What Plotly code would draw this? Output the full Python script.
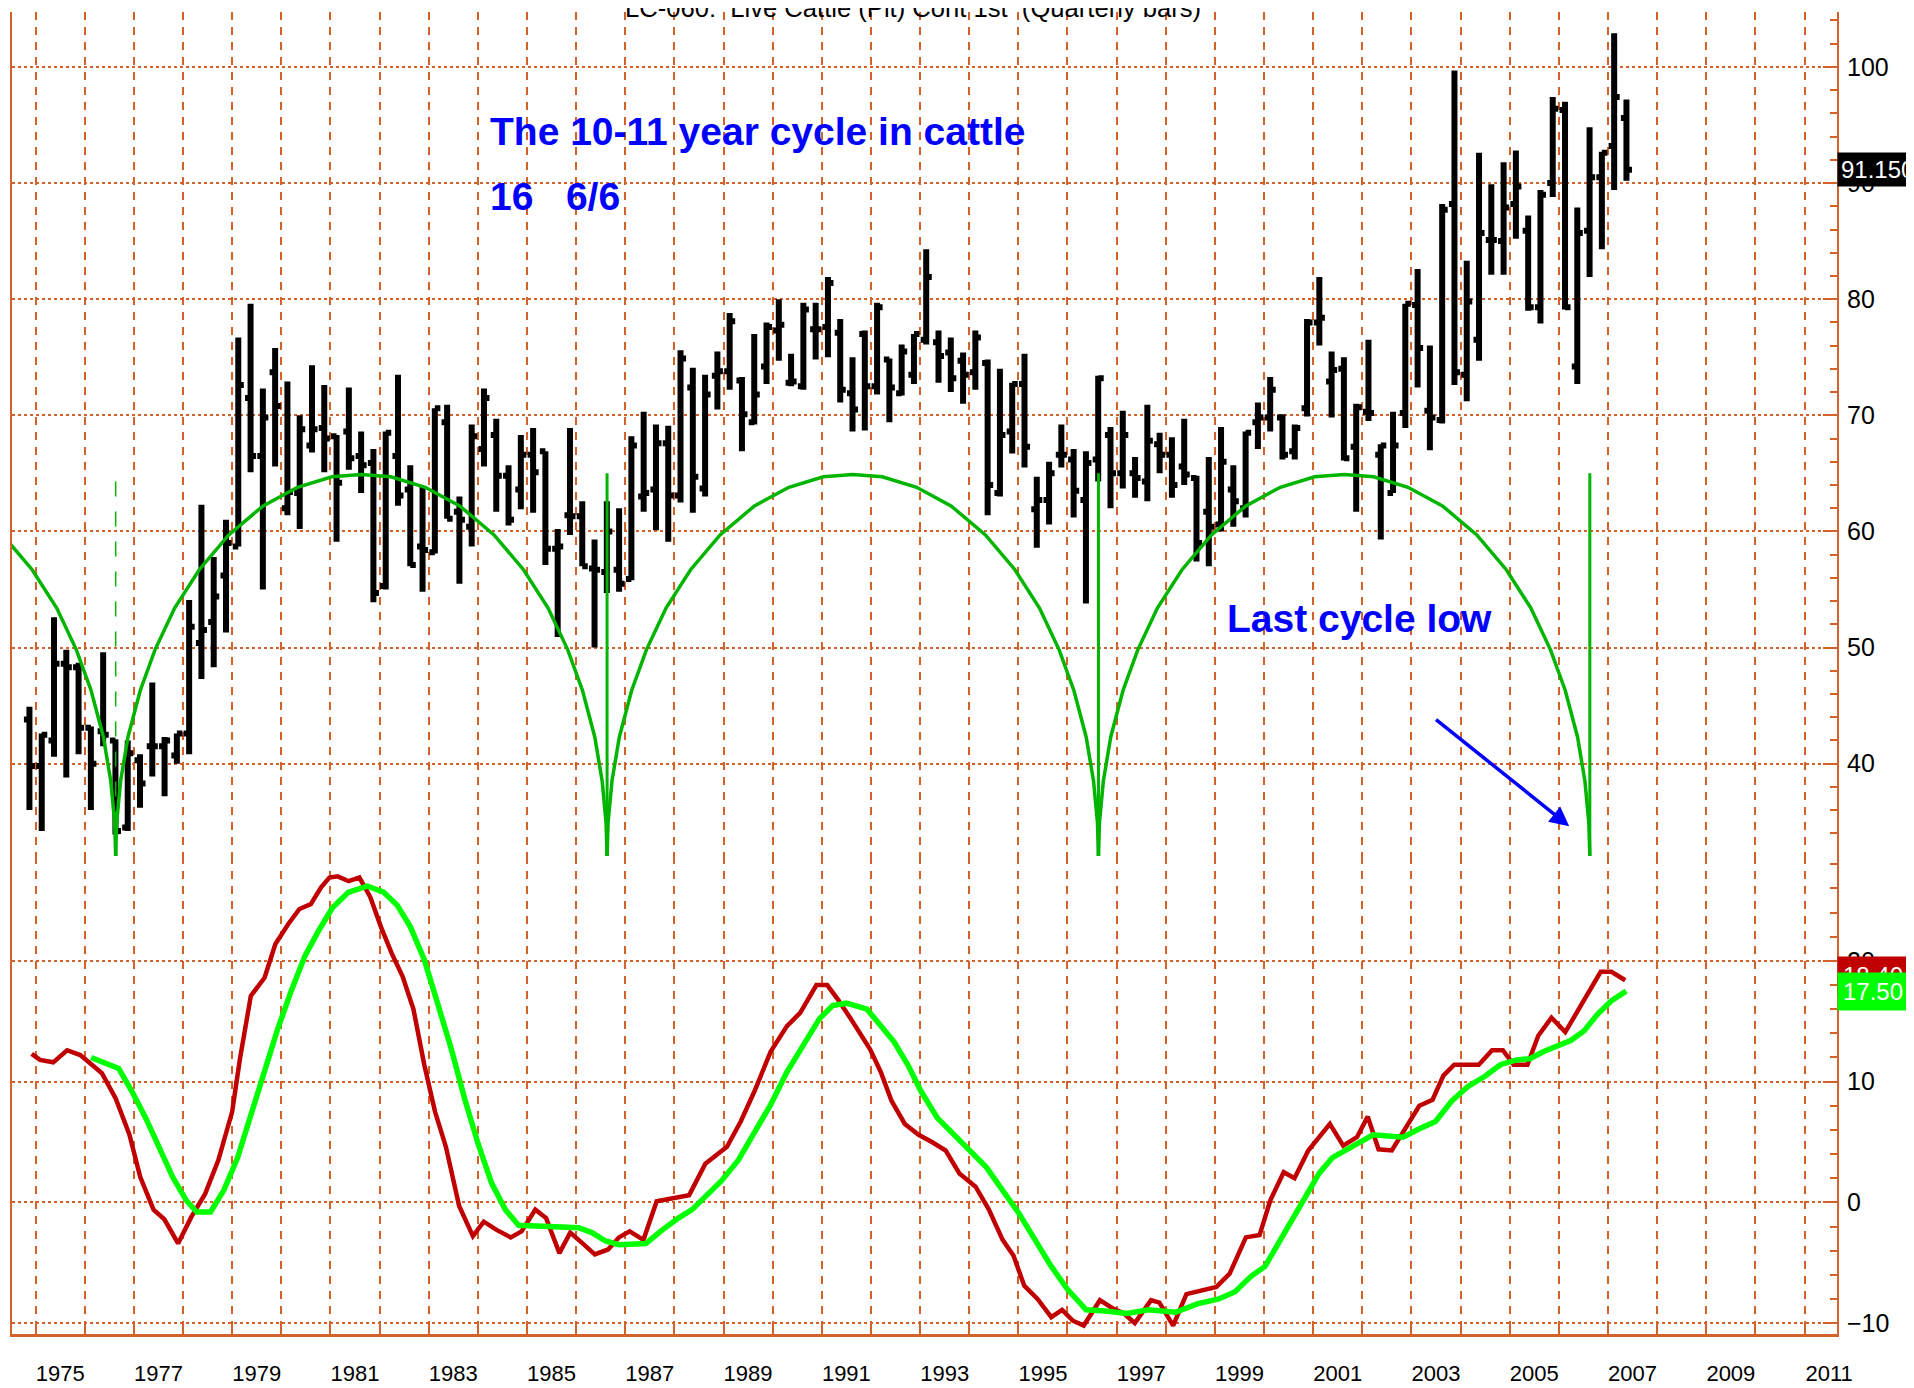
import plotly.graph_objects as go

# ---- quarterly OHLC bars, Q4 1974 .. Q2 2007 ----
first_year, first_q, n_bars = 1974, 4, 131
bar_open = [43.8, 39.8, 42.0, 48.6, 48.3, 43.1, 42.8, 42.0, 34.5, 40.3,
            41.5, 41.5, 40.7, 42.6, 50.4, 52.2, 56.2, 58.7, 71.5, 66.5,
            73.7, 62.0, 63.3, 67.4, 68.9, 68.2, 68.6, 66.5, 65.9, 55.3,
            66.5, 63.6, 58.7, 58.2, 69.4, 61.7, 60.4, 67.1, 68.3, 64.8,
            63.6, 66.6, 66.9, 58.5, 61.4, 61.3, 56.8, 56.5, 56.7, 55.9,
            63.0, 63.6, 67.6, 63.1, 72.4, 63.7, 73.4, 73.8, 73.0, 69.4,
            74.2, 77.3, 72.8, 72.5, 77.4, 77.6, 77.1, 71.9, 77.0, 72.5,
            74.8, 71.9, 73.5, 76.5, 76.3, 75.4, 74.7, 73.7, 74.5, 63.3,
            68.6, 72.7, 61.9, 62.7, 66.6, 66.2, 62.7, 66.2, 68.3, 65.0,
            65.0, 64.3, 67.5, 66.6, 65.6, 64.6, 61.7, 60.6, 63.6, 62.0,
            69.4, 69.8, 69.8, 66.9, 70.6, 78.0, 72.9, 74.0, 67.3, 70.3,
            66.6, 63.3, 70.2, 79.5, 70.4, 69.6, 88.2, 73.5, 76.5, 85.1,
            85.0, 88.2, 85.9, 79.3, 90.0, 96.3, 74.2, 85.9, 90.5, 93.2,
            95.6]
bar_high = [44.9, 42.6, 52.6, 49.8, 48.7, 43.2, 49.6, 42.1, 42.0, 40.8,
            47.0, 42.3, 42.6, 54.1, 62.3, 57.8, 61.0, 76.7, 79.6, 72.3,
            75.8, 72.9, 70.0, 74.3, 72.6, 68.3, 72.4, 68.6, 67.1, 68.6,
            73.5, 65.7, 63.9, 70.6, 70.9, 63.0, 69.2, 72.3, 69.7, 65.7,
            68.3, 68.9, 66.9, 60.2, 68.9, 62.6, 59.3, 62.6, 62.0, 68.2,
            70.3, 69.2, 69.1, 75.6, 74.1, 73.5, 75.5, 78.8, 73.3, 77.0,
            78.0, 80.0, 75.3, 79.7, 79.7, 81.9, 78.3, 75.0, 77.3, 79.7,
            74.9, 76.1, 77.0, 84.3, 77.3, 76.7, 75.4, 77.3, 74.8, 74.0,
            72.8, 75.3, 64.7, 66.0, 69.2, 67.1, 66.9, 73.4, 69.0, 70.4,
            66.4, 70.9, 68.5, 68.1, 69.7, 64.8, 66.4, 69.0, 65.7, 68.6,
            71.1, 73.3, 70.1, 69.2, 78.3, 81.9, 75.5, 75.0, 71.0, 76.5,
            67.5, 70.3, 79.6, 82.6, 76.0, 88.2, 99.7, 83.3, 92.6, 89.9,
            91.8, 92.8, 87.2, 89.4, 97.4, 97.0, 87.9, 94.8, 92.7, 102.9,
            97.2]
bar_low = [36.0, 34.2, 40.6, 38.8, 40.8, 36.0, 41.5, 33.9, 34.2, 36.2,
           38.9, 37.2, 40.0, 40.8, 47.3, 48.3, 51.3, 58.7, 65.1, 55.0,
           65.6, 61.4, 60.2, 66.8, 65.1, 59.1, 65.3, 63.3, 53.9, 55.0,
           62.2, 57.0, 54.8, 58.1, 61.1, 55.5, 58.7, 65.6, 61.7, 60.5,
           61.9, 61.6, 57.1, 50.9, 59.7, 57.0, 50.0, 54.7, 54.8, 55.8,
           61.7, 60.1, 59.1, 62.5, 61.6, 63.0, 70.5, 72.2, 66.9, 69.2,
           72.7, 74.7, 72.5, 72.2, 74.8, 75.0, 71.1, 68.6, 68.7, 71.8,
           69.4, 71.7, 72.7, 76.1, 72.8, 72.0, 71.0, 72.2, 61.4, 63.0,
           66.7, 65.5, 58.6, 60.6, 65.5, 61.2, 53.8, 64.3, 62.0, 63.7,
           62.9, 62.6, 65.0, 62.9, 64.0, 57.4, 57.0, 60.0, 60.4, 61.2,
           67.1, 68.6, 66.2, 66.2, 69.9, 76.0, 69.8, 66.1, 61.7, 69.5,
           59.3, 63.3, 68.9, 72.4, 67.0, 69.3, 72.6, 71.2, 74.7, 82.1,
           82.1, 85.2, 79.0, 77.9, 88.8, 79.1, 72.7, 81.9, 84.3, 89.4,
           90.2]
bar_close = [39.8, 42.5, 48.6, 48.3, 43.1, 40.0, 42.5, 34.2, 40.9, 38.3,
             41.5, 42.0, 42.6, 51.8, 51.5, 54.4, 59.0, 72.6, 66.5, 69.8,
             70.8, 63.4, 68.8, 68.8, 68.0, 64.2, 66.3, 65.7, 54.7, 68.5,
             63.1, 57.1, 58.4, 70.6, 61.1, 61.0, 68.2, 71.5, 64.8, 61.0,
             66.6, 65.1, 58.5, 58.7, 61.3, 57.0, 56.7, 60.0, 55.5, 67.4,
             63.3, 67.6, 63.1, 74.9, 64.7, 71.8, 73.8, 78.1, 70.1, 71.8,
             77.6, 77.8, 72.9, 79.1, 77.4, 81.4, 72.2, 70.5, 72.5, 79.3,
             72.4, 75.5, 77.0, 81.9, 75.1, 73.2, 73.5, 76.7, 64.0, 68.3,
             72.7, 67.3, 62.7, 65.0, 66.6, 63.5, 65.9, 73.2, 65.0, 68.3,
             64.6, 67.8, 66.6, 64.0, 64.9, 59.0, 60.4, 66.0, 62.6, 68.5,
             69.8, 72.2, 66.6, 68.9, 78.0, 78.4, 73.9, 66.3, 70.7, 70.2,
             67.4, 67.4, 79.6, 75.8, 69.8, 87.7, 73.7, 79.8, 85.7, 85.1,
             87.9, 89.7, 79.3, 89.0, 96.4, 79.3, 85.7, 90.5, 92.6, 97.4,
             91.15]

# ---- cycle: lows and arc profile ----
cycle_lows = [1966.63, 1976.63, 1986.63, 1996.63, 2006.63]
arc_dx = [0.0, 0.02, 0.1, 0.25, 0.5, 0.8, 1.2, 1.7, 2.3, 3.0, 3.7, 4.4, 5.0]
arc_val = [32.0, 34.9, 38.5, 42.3, 46.3, 49.8, 53.4, 56.7, 59.7, 62.2, 63.8, 64.7, 64.9]
marker_top = 65.0

# ---- lower panel oscillator ----
red_x = [1974.92, 1975.09, 1975.36, 1975.64, 1975.91, 1976.13, 1976.35, 1976.63, 1976.91, 1977.13,
         1977.40, 1977.62, 1977.90, 1978.17, 1978.45, 1978.72, 1979.00, 1979.16, 1979.38, 1979.66,
         1979.88, 1980.15, 1980.37, 1980.60, 1980.81, 1980.98, 1981.15, 1981.37, 1981.59, 1981.81,
         1982.03, 1982.25, 1982.47, 1982.69, 1982.91, 1983.13, 1983.35, 1983.62, 1983.90, 1984.12,
         1984.39, 1984.67, 1984.89, 1985.17, 1985.39, 1985.66, 1985.88, 1986.16, 1986.38, 1986.65,
         1986.87, 1987.09, 1987.37, 1987.64, 1987.92, 1988.30, 1988.63, 1989.07, 1989.35, 1989.63,
         1989.96, 1990.29, 1990.56, 1990.89, 1991.11, 1991.33, 1991.59, 1991.98, 1992.20, 1992.42,
         1992.69, 1992.97, 1993.24, 1993.52, 1993.80, 1994.13, 1994.40, 1994.68, 1994.90, 1995.12,
         1995.39, 1995.67, 1995.89, 1996.11, 1996.33, 1996.66, 1996.93, 1997.15, 1997.37, 1997.70,
         1997.87, 1998.15, 1998.42, 1998.75, 1999.03, 1999.30, 1999.63, 1999.91, 2000.13, 2000.40,
         2000.62, 2000.90, 2001.12, 2001.34, 2001.61, 2001.89, 2002.11, 2002.33, 2002.60, 2002.88,
         2003.16, 2003.43, 2003.65, 2003.87, 2004.37, 2004.64, 2004.86, 2005.08, 2005.36, 2005.58,
         2005.85, 2006.13, 2006.40, 2006.63, 2006.85, 2007.07, 2007.35]
red_y = [12.3, 11.8, 11.6, 12.6, 12.2, 11.5, 10.7, 8.6, 5.6, 2.1,
         -0.6, -1.4, -3.4, -1.2, 0.7, 3.5, 7.5, 11.9, 17.1, 18.6,
         21.4, 23.1, 24.3, 24.7, 26.1, 26.9, 27.0, 26.6, 26.9, 25.3,
         22.8, 20.6, 18.7, 16.0, 11.4, 7.5, 4.6, -0.3, -2.8, -1.6,
         -2.3, -2.9, -2.4, -0.6, -1.3, -4.2, -2.5, -3.5, -4.3, -3.9,
         -2.9, -2.4, -3.1, 0.1, 0.3, 0.6, 3.2, 4.6, 6.7, 9.2,
         12.5, 14.6, 15.7, 18.0, 18.0, 16.8, 15.2, 12.7, 10.8, 8.4,
         6.5, 5.6, 5.0, 4.3, 2.4, 1.3, -0.6, -3.1, -4.4, -6.9,
         -8.0, -9.5, -8.9, -9.8, -10.2, -8.1, -8.8, -9.2, -10.0, -8.1,
         -8.3, -10.2, -7.6, -7.3, -7.0, -5.9, -2.9, -2.7, 0.2, 2.5,
         2.0, 4.3, 5.4, 6.5, 4.7, 5.4, 7.1, 4.4, 4.3, 6.2,
         8.0, 8.5, 10.5, 11.4, 11.4, 12.6, 12.6, 11.4, 11.4, 13.8,
         15.3, 14.1, 16.0, 17.6, 19.1, 19.1, 18.4]
green_x = [1976.13, 1976.41, 1976.69, 1976.96, 1977.24, 1977.51, 1977.79, 1978.06, 1978.28, 1978.56,
           1978.83, 1979.11, 1979.38, 1979.66, 1979.93, 1980.21, 1980.48, 1980.76, 1981.04, 1981.37,
           1981.75, 1982.08, 1982.36, 1982.63, 1982.91, 1983.18, 1983.46, 1983.73, 1984.01, 1984.28,
           1984.56, 1984.83, 1985.22, 1985.66, 1986.05, 1986.32, 1986.60, 1986.87, 1987.42, 1987.75,
           1988.08, 1988.36, 1988.63, 1988.96, 1989.30, 1989.63, 1989.96, 1990.29, 1990.62, 1990.95,
           1991.22, 1991.50, 1991.92, 1992.20, 1992.47, 1992.75, 1993.02, 1993.35, 1993.69, 1994.02,
           1994.35, 1994.68, 1995.01, 1995.34, 1995.67, 1996.00, 1996.38, 1996.77, 1997.21, 1997.65,
           1998.20, 1998.64, 1999.08, 1999.41, 1999.74, 2000.02, 2000.29, 2000.57, 2000.84, 2001.12,
           2001.39, 2001.72, 2002.00, 2002.22, 2002.50, 2002.83, 2003.16, 2003.49, 2003.82, 2004.15,
           2004.48, 2004.81, 2005.14, 2005.41, 2005.69, 2005.96, 2006.24, 2006.51, 2006.79, 2007.07,
           2007.37]
green_y = [12.0, 11.6, 11.1, 9.2, 7.0, 4.6, 2.1, 0.2, -0.8, -0.8,
           1.0, 3.7, 7.3, 10.8, 14.4, 17.6, 20.4, 22.5, 24.4, 25.7,
           26.2, 25.7, 24.6, 22.8, 20.1, 16.5, 12.7, 8.6, 4.8, 1.6,
           -0.6, -1.9, -2.0, -2.1, -2.1, -2.5, -3.2, -3.5, -3.4, -2.3,
           -1.3, -0.6, 0.5, 1.8, 3.5, 5.9, 8.1, 10.8, 13.0, 15.2,
           16.3, 16.5, 16.0, 14.6, 13.3, 11.4, 9.2, 7.0, 5.6, 4.3,
           2.9, 1.0, -0.9, -3.1, -5.3, -7.2, -8.9, -9.0, -9.2, -8.9,
           -9.1, -8.4, -8.0, -7.4, -6.1, -5.3, -3.4, -1.4, 0.5, 2.4,
           3.7, 4.4, 5.1, 5.6, 5.5, 5.4, 6.1, 6.7, 8.4, 9.6,
           10.4, 11.4, 11.8, 11.9, 12.5, 13.0, 13.4, 14.2, 15.6, 16.7,
           17.5]

year_labels = [str(y) for y in range(1975, 2012, 2)]
price_ticks = [40, 50, 60, 70, 80, 90, 100]
osc_ticks = [-10, 0, 10, 20]

ORANGE = "#d4602a"
FONT = "Liberation Sans, Arial, sans-serif"

bar_x = []
for i in range(n_bars):
    q = first_q - 1 + i
    bar_x.append(first_year + q // 4 + (q % 4 + 0.5) / 4)

fig = go.Figure()

# cycle arcs
for lo, hi in zip(cycle_lows[:-1], cycle_lows[1:]):
    xs = [lo + d for d in arc_dx] + [hi - d for d in arc_dx[::-1][1:]]
    ys = arc_val + arc_val[::-1][1:]
    fig.add_trace(go.Scatter(x=xs, y=ys, mode="lines",
                             line=dict(color="#00b400", width=3.5),
                             hoverinfo="skip"))
for k, lo in enumerate(cycle_lows[1:]):
    fig.add_trace(go.Scatter(x=[lo, lo], y=[arc_val[0], marker_top], mode="lines",
                             line=dict(color="#00b400", width=1.5 if k == 0 else 3,
                                       dash="longdash" if k == 0 else "solid"),
                             hoverinfo="skip"))

fig.add_trace(go.Ohlc(x=bar_x, open=bar_open, high=bar_high, low=bar_low, close=bar_close,
                      increasing=dict(line=dict(color="black", width=6)),
                      decreasing=dict(line=dict(color="black", width=6)),
                      tickwidth=0.45))

fig.add_trace(go.Scatter(x=red_x, y=red_y, yaxis="y2", mode="lines",
                         line=dict(color="#c00000", width=4.5)))
fig.add_trace(go.Scatter(x=green_x, y=green_y, yaxis="y2", mode="lines",
                         line=dict(color="#00ff00", width=5.5)))

# the page body adds an 8px offset, so the figure is 8px smaller than the window
split = 0.3615
axis_common = dict(side="right", anchor="x", ticks="inside", ticklen=14, tickwidth=2,
                   tickcolor=ORANGE, showline=True, linecolor=ORANGE, linewidth=2,
                   mirror=True, showgrid=True, gridcolor=ORANGE, griddash="3px,3px",
                   gridwidth=2, zeroline=False, ticklabelstandoff=3,
                   tickfont=dict(family=FONT, size=25, color="black"),
                   minor=dict(tick0=0, dtick=2, ticks="inside", ticklen=7,
                              tickcolor=ORANGE, tickwidth=2, showgrid=False))

fig.update_layout(
    width=1906, height=1380,
    margin=dict(l=2, r=77, t=4, b=51),
    paper_bgcolor="white", plot_bgcolor="white",
    showlegend=False,
    xaxis=dict(type="linear", range=[1974.52, 2011.66], anchor="y2",
               tickmode="array", tickvals=[int(t) + 0.5 for t in year_labels],
               ticktext=year_labels, ticks="", showgrid=False,
               showline=True, linecolor=ORANGE, linewidth=3, zeroline=False,
               ticklabelstandoff=18,
               tickfont=dict(family=FONT, size=22, color="black"),
               rangeslider=dict(visible=False),
               minor=dict(tick0=1975, dtick=1, ticks="inside", ticklen=9,
                          tickcolor=ORANGE, tickwidth=1.5, showgrid=True,
                          gridcolor=ORANGE, griddash="8px,7px", gridwidth=1.5)),
    yaxis=dict(domain=[split, 1], range=[32.04, 104.73], tickvals=price_ticks,
               **axis_common),
    yaxis2=dict(domain=[0, split], range=[-10.9, 28.68], tickvals=osc_ticks,
                **axis_common),
)

blue = "#0000ff"
fig.add_annotation(x=0.4937, xref="paper", y=1, yref="paper", yanchor="middle", yshift=4,
                   text="LC-060:  Live Cattle (Pit) Cont 1st  (Quarterly bars)",
                   showarrow=False, font=dict(family=FONT, size=25.6, color="black"))
fig.add_annotation(x=1984.2, y=94.4, xanchor="left", yanchor="middle",
                   text="<b>The 10-11 year cycle in cattle</b>", showarrow=False,
                   font=dict(family=FONT, size=39, color=blue))
fig.add_annotation(x=1984.2, y=88.8, xanchor="left", yanchor="middle",
                   text="<b>16\u00a0\u00a0 6/6</b>", showarrow=False,
                   font=dict(family=FONT, size=39, color=blue))
fig.add_annotation(x=1999.2, y=52.5, xanchor="left", yanchor="middle",
                   text="<b>Last cycle low</b>", showarrow=False,
                   font=dict(family=FONT, size=39, color=blue))
fig.add_annotation(x=2006.21, y=34.62, ax=2003.47, ay=43.9, axref="x", ayref="y",
                   text="", showarrow=True, arrowhead=2, arrowsize=1.1,
                   arrowwidth=3.5, arrowcolor=blue)

# last-value boxes on the right scale
fig.add_annotation(x=1, xref="paper", xanchor="left", y=bar_close[-1], yref="y",
                   text="91.150", showarrow=False, bgcolor="black", borderpad=3,
                   font=dict(family=FONT, size=24, color="white"))
fig.add_annotation(x=1, xref="paper", xanchor="left", y=18.8, yref="y2",
                   text="18.40", showarrow=False, bgcolor="#c00000", borderpad=5,
                   font=dict(family=FONT, size=24, color="white"))
fig.add_annotation(x=1, xref="paper", xanchor="left", y=green_y[-1], yref="y2",
                   text="17.50", showarrow=False, bgcolor="#00ff00", borderpad=5,
                   font=dict(family=FONT, size=24, color="white"))

fig.write_html("out.html")
